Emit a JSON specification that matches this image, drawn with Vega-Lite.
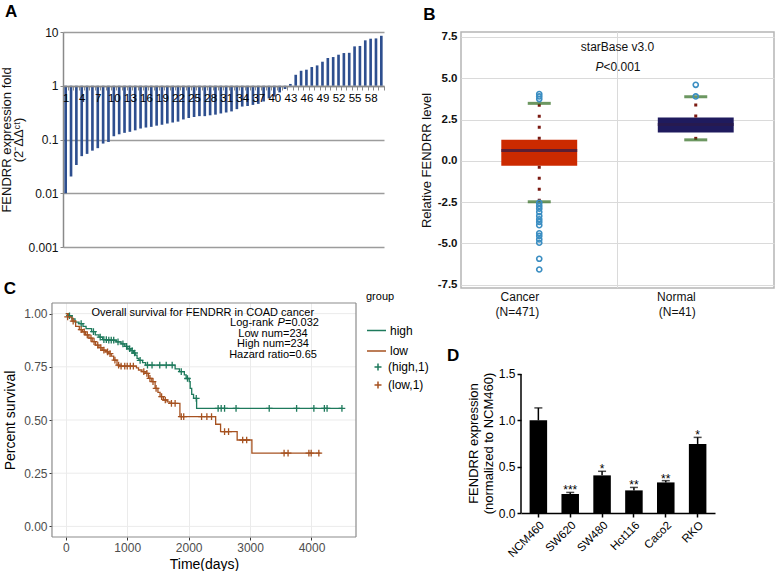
{
"$schema": "https://vega.github.io/schema/vega-lite/v6.json",
"padding": {"left": 0, "top": 3, "right": 0, "bottom": 0},
"config": {
  "font": "Liberation Sans",
  "view": {"stroke": null},
  "title": {"fontSize": 17, "fontWeight": "bold", "anchor": "start", "frame": "bounds", "baseline": "alphabetic", "color": "#000"}
},
"datasets": {
  "boxsum": [
    {"cat": "Cancer", "q1": -0.3, "med": 0.62, "q3": 1.27, "lo": -2.48, "hi": 3.48},
    {"cat": "Normal", "q1": 1.72, "med": 2.2, "q3": 2.63, "lo": 1.27, "hi": 3.88}
  ],
  "outl": [
    {"cat": "Cancer", "v": 4.04}, {"cat": "Cancer", "v": 3.9}, {"cat": "Cancer", "v": 3.74},
    {"cat": "Cancer", "v": -2.55}, {"cat": "Cancer", "v": -2.73}, {"cat": "Cancer", "v": -2.9},
    {"cat": "Cancer", "v": -3.1}, {"cat": "Cancer", "v": -3.34}, {"cat": "Cancer", "v": -3.54},
    {"cat": "Cancer", "v": -3.7}, {"cat": "Cancer", "v": -3.9}, {"cat": "Cancer", "v": -4.39},
    {"cat": "Cancer", "v": -4.55}, {"cat": "Cancer", "v": -4.76}, {"cat": "Cancer", "v": -4.96},
    {"cat": "Cancer", "v": -5.93}, {"cat": "Cancer", "v": -6.58},
    {"cat": "Normal", "v": 4.6}, {"cat": "Normal", "v": 3.9}
  ],
  "km": [
    {"g": "high", "t": 0, "s": 1.0}, {"g": "high", "t": 50, "s": 0.99}, {"g": "high", "t": 100, "s": 0.975},
    {"g": "high", "t": 150, "s": 0.96}, {"g": "high", "t": 215, "s": 0.953}, {"g": "high", "t": 280, "s": 0.94},
    {"g": "high", "t": 330, "s": 0.93}, {"g": "high", "t": 420, "s": 0.915}, {"g": "high", "t": 480, "s": 0.9},
    {"g": "high", "t": 540, "s": 0.89}, {"g": "high", "t": 600, "s": 0.878}, {"g": "high", "t": 700, "s": 0.875},
    {"g": "high", "t": 820, "s": 0.867}, {"g": "high", "t": 900, "s": 0.858}, {"g": "high", "t": 960, "s": 0.846},
    {"g": "high", "t": 1010, "s": 0.835}, {"g": "high", "t": 1060, "s": 0.826}, {"g": "high", "t": 1100, "s": 0.815},
    {"g": "high", "t": 1130, "s": 0.805}, {"g": "high", "t": 1160, "s": 0.79}, {"g": "high", "t": 1190, "s": 0.78},
    {"g": "high", "t": 1250, "s": 0.77}, {"g": "high", "t": 1300, "s": 0.758}, {"g": "high", "t": 1780, "s": 0.74},
    {"g": "high", "t": 1850, "s": 0.727}, {"g": "high", "t": 1930, "s": 0.712}, {"g": "high", "t": 1960, "s": 0.695},
    {"g": "high", "t": 2010, "s": 0.68}, {"g": "high", "t": 2025, "s": 0.649}, {"g": "high", "t": 2050, "s": 0.62},
    {"g": "high", "t": 2080, "s": 0.602}, {"g": "high", "t": 2130, "s": 0.555}, {"g": "high", "t": 4500, "s": 0.555},
    {"g": "low", "t": 0, "s": 1.0}, {"g": "low", "t": 40, "s": 0.985}, {"g": "low", "t": 100, "s": 0.965},
    {"g": "low", "t": 160, "s": 0.94}, {"g": "low", "t": 220, "s": 0.925}, {"g": "low", "t": 270, "s": 0.914},
    {"g": "low", "t": 320, "s": 0.9}, {"g": "low", "t": 376, "s": 0.885}, {"g": "low", "t": 430, "s": 0.868},
    {"g": "low", "t": 485, "s": 0.852}, {"g": "low", "t": 540, "s": 0.84}, {"g": "low", "t": 592, "s": 0.828},
    {"g": "low", "t": 650, "s": 0.82}, {"g": "low", "t": 700, "s": 0.812}, {"g": "low", "t": 740, "s": 0.8},
    {"g": "low", "t": 780, "s": 0.781}, {"g": "low", "t": 834, "s": 0.758}, {"g": "low", "t": 870, "s": 0.753},
    {"g": "low", "t": 1150, "s": 0.745}, {"g": "low", "t": 1184, "s": 0.735}, {"g": "low", "t": 1240, "s": 0.727},
    {"g": "low", "t": 1292, "s": 0.719}, {"g": "low", "t": 1346, "s": 0.696}, {"g": "low", "t": 1400, "s": 0.68},
    {"g": "low", "t": 1454, "s": 0.649}, {"g": "low", "t": 1500, "s": 0.63}, {"g": "low", "t": 1535, "s": 0.61},
    {"g": "low", "t": 1588, "s": 0.594}, {"g": "low", "t": 1650, "s": 0.585}, {"g": "low", "t": 1696, "s": 0.578},
    {"g": "low", "t": 1858, "s": 0.516}, {"g": "low", "t": 2440, "s": 0.48}, {"g": "low", "t": 2520, "s": 0.445},
    {"g": "low", "t": 2790, "s": 0.406}, {"g": "low", "t": 3030, "s": 0.344}, {"g": "low", "t": 4145, "s": 0.344}
  ],
  "cens": [
    {"g": "(high,1)", "t": 60, "s": 0.99}, {"g": "(high,1)", "t": 250, "s": 0.953}, {"g": "(high,1)", "t": 450, "s": 0.915},
    {"g": "(high,1)", "t": 560, "s": 0.89}, {"g": "(high,1)", "t": 620, "s": 0.878}, {"g": "(high,1)", "t": 660, "s": 0.878},
    {"g": "(high,1)", "t": 700, "s": 0.875}, {"g": "(high,1)", "t": 740, "s": 0.875}, {"g": "(high,1)", "t": 780, "s": 0.875},
    {"g": "(high,1)", "t": 850, "s": 0.867}, {"g": "(high,1)", "t": 930, "s": 0.858}, {"g": "(high,1)", "t": 990, "s": 0.846},
    {"g": "(high,1)", "t": 1040, "s": 0.835}, {"g": "(high,1)", "t": 1080, "s": 0.826}, {"g": "(high,1)", "t": 1120, "s": 0.815},
    {"g": "(high,1)", "t": 1210, "s": 0.78}, {"g": "(high,1)", "t": 1330, "s": 0.758}, {"g": "(high,1)", "t": 1404, "s": 0.758},
    {"g": "(high,1)", "t": 1530, "s": 0.758}, {"g": "(high,1)", "t": 1635, "s": 0.758}, {"g": "(high,1)", "t": 1732, "s": 0.758},
    {"g": "(high,1)", "t": 1880, "s": 0.727}, {"g": "(high,1)", "t": 1981, "s": 0.695}, {"g": "(high,1)", "t": 2124, "s": 0.602},
    {"g": "(high,1)", "t": 2480, "s": 0.555}, {"g": "(high,1)", "t": 2530, "s": 0.555}, {"g": "(high,1)", "t": 2585, "s": 0.555},
    {"g": "(high,1)", "t": 2772, "s": 0.555}, {"g": "(high,1)", "t": 3312, "s": 0.555}, {"g": "(high,1)", "t": 3758, "s": 0.555},
    {"g": "(high,1)", "t": 4039, "s": 0.555}, {"g": "(high,1)", "t": 4210, "s": 0.555}, {"g": "(high,1)", "t": 4254, "s": 0.555},
    {"g": "(high,1)", "t": 4496, "s": 0.555},
    {"g": "(low,1)", "t": 30, "s": 0.985}, {"g": "(low,1)", "t": 120, "s": 0.965}, {"g": "(low,1)", "t": 250, "s": 0.925},
    {"g": "(low,1)", "t": 300, "s": 0.914}, {"g": "(low,1)", "t": 350, "s": 0.9}, {"g": "(low,1)", "t": 410, "s": 0.885},
    {"g": "(low,1)", "t": 460, "s": 0.868}, {"g": "(low,1)", "t": 520, "s": 0.852}, {"g": "(low,1)", "t": 570, "s": 0.84},
    {"g": "(low,1)", "t": 620, "s": 0.828}, {"g": "(low,1)", "t": 680, "s": 0.82}, {"g": "(low,1)", "t": 720, "s": 0.812},
    {"g": "(low,1)", "t": 800, "s": 0.781}, {"g": "(low,1)", "t": 860, "s": 0.758}, {"g": "(low,1)", "t": 900, "s": 0.753},
    {"g": "(low,1)", "t": 960, "s": 0.753}, {"g": "(low,1)", "t": 1000, "s": 0.753}, {"g": "(low,1)", "t": 1050, "s": 0.753},
    {"g": "(low,1)", "t": 1100, "s": 0.753}, {"g": "(low,1)", "t": 1270, "s": 0.727}, {"g": "(low,1)", "t": 1320, "s": 0.719},
    {"g": "(low,1)", "t": 1370, "s": 0.696}, {"g": "(low,1)", "t": 1420, "s": 0.68}, {"g": "(low,1)", "t": 1470, "s": 0.649},
    {"g": "(low,1)", "t": 1560, "s": 0.61}, {"g": "(low,1)", "t": 1620, "s": 0.594}, {"g": "(low,1)", "t": 1720, "s": 0.578},
    {"g": "(low,1)", "t": 1780, "s": 0.578}, {"g": "(low,1)", "t": 1880, "s": 0.516}, {"g": "(low,1)", "t": 1920, "s": 0.516},
    {"g": "(low,1)", "t": 2211, "s": 0.516}, {"g": "(low,1)", "t": 2297, "s": 0.516}, {"g": "(low,1)", "t": 2373, "s": 0.516},
    {"g": "(low,1)", "t": 2585, "s": 0.445}, {"g": "(low,1)", "t": 2650, "s": 0.445}, {"g": "(low,1)", "t": 2880, "s": 0.406},
    {"g": "(low,1)", "t": 2945, "s": 0.406}, {"g": "(low,1)", "t": 3554, "s": 0.344}, {"g": "(low,1)", "t": 3619, "s": 0.344},
    {"g": "(low,1)", "t": 3958, "s": 0.344}, {"g": "(low,1)", "t": 3995, "s": 0.344}, {"g": "(low,1)", "t": 4120, "s": 0.344}
  ],
  "cgrid": [
    {"s": 0, "t0": -225, "t1": 4725}, {"s": 0.25, "t0": -225, "t1": 4725}, {"s": 0.5, "t0": -225, "t1": 4725},
    {"s": 0.75, "t0": -225, "t1": 4725}, {"s": 1, "t0": -225, "t1": 4725}
  ],
  "cframe": [
    {"t0": -225, "t1": 4725, "s0": -0.05, "s1": -0.05}, {"t0": -225, "t1": 4725, "s0": 1.05, "s1": 1.05},
    {"t0": -225, "t1": -225, "s0": -0.05, "s1": 1.05}, {"t0": 4725, "t1": 4725, "s0": -0.05, "s1": 1.05}
  ],
  "dset": [
    {"cell": "NCM460", "m": 1.0, "hi": 1.134, "star": ""},
    {"cell": "SW620", "m": 0.205, "hi": 0.222, "star": "***"},
    {"cell": "SW480", "m": 0.406, "hi": 0.45, "star": "*"},
    {"cell": "Hct116", "m": 0.244, "hi": 0.276, "star": "**"},
    {"cell": "Caco2", "m": 0.33, "hi": 0.349, "star": "**"},
    {"cell": "RKO", "m": 0.745, "hi": 0.816, "star": "*"}
  ]
},
"columns": 1,
"align": "none",
"spacing": -38,
"resolve": {"scale": {"color": "independent", "stroke": "independent"}, "legend": {"color": "independent", "stroke": "independent"}},
"concat": [
 {"columns": 2, "align": "none", "spacing": 34, "concat": [
  {
   "width": 321, "height": 215,
   "title": {"text": "A", "offset": 5, "dx": 4},
   "data": {"values": [
     {"n": 1, "v": 0.01}, {"n": 2, "v": 0.0205}, {"n": 3, "v": 0.0335}, {"n": 4, "v": 0.049}, {"n": 5, "v": 0.054},
     {"n": 6, "v": 0.062}, {"n": 7, "v": 0.069}, {"n": 8, "v": 0.084}, {"n": 9, "v": 0.09}, {"n": 10, "v": 0.115},
     {"n": 11, "v": 0.125}, {"n": 12, "v": 0.133}, {"n": 13, "v": 0.139}, {"n": 14, "v": 0.148}, {"n": 15, "v": 0.16},
     {"n": 16, "v": 0.167}, {"n": 17, "v": 0.172}, {"n": 18, "v": 0.181}, {"n": 19, "v": 0.188}, {"n": 20, "v": 0.198},
     {"n": 21, "v": 0.207}, {"n": 22, "v": 0.215}, {"n": 23, "v": 0.236}, {"n": 24, "v": 0.251}, {"n": 25, "v": 0.262},
     {"n": 26, "v": 0.272}, {"n": 27, "v": 0.272}, {"n": 28, "v": 0.282}, {"n": 29, "v": 0.29}, {"n": 30, "v": 0.305},
     {"n": 31, "v": 0.318}, {"n": 32, "v": 0.333}, {"n": 33, "v": 0.367}, {"n": 34, "v": 0.41}, {"n": 35, "v": 0.42},
     {"n": 36, "v": 0.44}, {"n": 37, "v": 0.46}, {"n": 38, "v": 0.51}, {"n": 39, "v": 0.58}, {"n": 40, "v": 0.63},
     {"n": 41, "v": 0.75}, {"n": 42, "v": 0.87}, {"n": 43, "v": 1.08}, {"n": 44, "v": 1.6}, {"n": 45, "v": 1.9},
     {"n": 46, "v": 1.99}, {"n": 47, "v": 2.23}, {"n": 48, "v": 2.39}, {"n": 49, "v": 2.8}, {"n": 50, "v": 3.28},
     {"n": 51, "v": 3.42}, {"n": 52, "v": 3.78}, {"n": 53, "v": 4.06}, {"n": 54, "v": 4.1}, {"n": 55, "v": 5.4},
     {"n": 56, "v": 5.5}, {"n": 57, "v": 7.0}, {"n": 58, "v": 7.5}, {"n": 59, "v": 7.6}, {"n": 60, "v": 8.5}
   ]},
   "mark": {"type": "bar", "color": "#2E4F8F", "width": {"band": 0.55}},
   "encoding": {
     "x": {"field": "n", "type": "ordinal", "axis": {"title": null, "offset": -161, "zindex": 1, "domainColor": "#8a8a8a", "domainWidth": 1.5, "tickColor": "#8a8a8a", "tickSize": 4, "tickBand": "extent", "labelAngle": 0, "labelOverlap": false, "labelExpr": "(datum.value - 1) % 3 == 0 ? datum.label : ''", "labelFontSize": 11.5, "labelColor": "#000", "labelPadding": 2}},
     "y": {"field": "v", "type": "quantitative", "scale": {"type": "log", "domain": [0.001, 10], "nice": false},
       "axis": {"values": [0.001, 0.01, 0.1, 1, 10], "format": "~g", "title": ["FENDRR expression fold", "(2⁻ΔΔᶜᵗ)"], "titleFontSize": 13, "titleFontWeight": "normal", "titleColor": "#111", "titlePadding": 2, "titleLineHeight": 12, "labelFontSize": 12, "labelColor": "#111", "domainColor": "#8a8a8a", "domainWidth": 1.5, "tickColor": "#8a8a8a", "tickSize": 3, "grid": true, "gridColor": "#9c9c9c", "gridWidth": 1.3}},
     "y2": {"datum": 1}
   }
  },
  {
   "width": 313, "height": 256,
   "view": {"stroke": "#b5b5b5", "strokeWidth": 1.5},
   "title": {"text": "B", "offset": 7, "dx": 3},
   "layer": [
    {"data": {"values": [{"cat": "Cancer"}]}, "mark": {"type": "rule", "color": "#dadada", "strokeWidth": 1},
     "encoding": {"x": {"field": "cat", "type": "nominal", "bandPosition": 1}}},
    {"data": {"name": "boxsum"}, "transform": [{"filter": "datum.cat == 'Cancer'"}], "mark": {"type": "bar", "width": {"band": 0.485}, "color": "#CC2A00"},
     "encoding": {
       "x": {"field": "cat", "type": "nominal", "scale": {"domain": ["Cancer", "Normal"], "paddingInner": 0, "paddingOuter": 0},
         "axis": {"title": null, "labelAngle": 0, "labelExpr": "datum.value == 'Cancer' ? ['Cancer', '(N=471)'] : ['Normal', '(N=41)']", "labelFontSize": 12, "labelLineHeight": 15, "labelPadding": 8, "labelColor": "#111", "ticks": false, "domain": false, "grid": false}},
       "y": {"field": "q1", "type": "quantitative", "scale": {"domain": [-7.7, 7.8], "nice": false, "zero": false},
         "axis": {"values": [-7.5, -5, -2.5, 0, 2.5, 5, 7.5], "format": ".1f", "labelExpr": "replace(datum.label, '−', '-')", "title": "Relative FENDRR level", "titleFontSize": 13, "titleFontWeight": "normal", "titleColor": "#111", "labelFontSize": 11.5, "labelFontWeight": "bold", "labelColor": "#111", "grid": true, "gridColor": "#dadada", "ticks": false, "domain": false, "labelPadding": 4, "titlePadding": 4}},
       "y2": {"field": "q3"}
     }},
    {"data": {"name": "boxsum"}, "transform": [{"filter": "datum.cat == 'Normal'"}], "mark": {"type": "bar", "width": {"band": 0.485}, "color": "#1F1B5E"},
     "encoding": {"x": {"field": "cat", "type": "nominal"}, "y": {"field": "q1", "type": "quantitative"}, "y2": {"field": "q3"}}},
    {"data": {"name": "boxsum"}, "mark": {"type": "tick", "size": 76, "thickness": 3, "color": "#2B1A48"},
     "encoding": {"x": {"field": "cat", "type": "nominal"}, "y": {"field": "med", "type": "quantitative"}}},
    {"data": {"name": "boxsum"}, "mark": {"type": "rule", "strokeDash": [3, 8], "strokeWidth": 3, "color": "#7B1A12"},
     "encoding": {"x": {"field": "cat", "type": "nominal"}, "y": {"field": "q3", "type": "quantitative"}, "y2": {"field": "hi"}}},
    {"data": {"name": "boxsum"}, "mark": {"type": "rule", "strokeDash": [3, 8], "strokeWidth": 3, "color": "#7B1A12"},
     "encoding": {"x": {"field": "cat", "type": "nominal"}, "y": {"field": "lo", "type": "quantitative"}, "y2": {"field": "q1"}}},
    {"data": {"name": "boxsum"}, "mark": {"type": "tick", "size": 23, "thickness": 3, "color": "#2E6B1E"},
     "encoding": {"x": {"field": "cat", "type": "nominal"}, "y": {"field": "hi", "type": "quantitative"}}},
    {"data": {"name": "boxsum"}, "mark": {"type": "tick", "size": 23, "thickness": 3, "color": "#2E6B1E"},
     "encoding": {"x": {"field": "cat", "type": "nominal"}, "y": {"field": "lo", "type": "quantitative"}}},
    {"data": {"name": "outl"}, "mark": {"type": "point", "shape": "circle", "filled": false, "color": "#3B8EC2", "strokeWidth": 1.6, "size": 26, "opacity": 1},
     "encoding": {"x": {"field": "cat", "type": "nominal"}, "y": {"field": "v", "type": "quantitative"}}},
    {"data": {"values": [{"cat": "Cancer", "y": 6.9, "label": "starBase v3.0"}]}, "mark": {"type": "text", "fontSize": 12, "align": "center", "baseline": "middle", "color": "#111"},
     "encoding": {"x": {"field": "cat", "type": "nominal", "bandPosition": 1}, "y": {"field": "y", "type": "quantitative"}, "text": {"field": "label"}}},
    {"data": {"values": [{"cat": "Cancer", "y": 5.68, "label": "P"}]}, "mark": {"type": "text", "fontSize": 12, "fontStyle": "italic", "align": "right", "baseline": "middle", "dx": -14, "color": "#111"},
     "encoding": {"x": {"field": "cat", "type": "nominal", "bandPosition": 1}, "y": {"field": "y", "type": "quantitative"}, "text": {"field": "label"}}},
    {"data": {"values": [{"cat": "Cancer", "y": 5.68, "label": "<0.001"}]}, "mark": {"type": "text", "fontSize": 12, "align": "left", "baseline": "middle", "dx": -14, "color": "#111"},
     "encoding": {"x": {"field": "cat", "type": "nominal", "bandPosition": 1}, "y": {"field": "y", "type": "quantitative"}, "text": {"field": "label"}}}
   ]
  }
 ]},
 {"columns": 2, "align": "none", "spacing": 18,
  "resolve": {"scale": {"color": "independent", "stroke": "independent"}, "legend": {"color": "independent", "stroke": "independent"}},
  "concat": [
  {
   "width": 293, "height": 234,
   "title": {"text": "C", "offset": -7, "dx": 0},
   "layer": [
    {"data": {"name": "cgrid"}, "mark": {"type": "rule", "color": "#EBEBEB", "strokeWidth": 1},
     "encoding": {"x": {"field": "t0", "type": "quantitative"}, "x2": {"field": "t1"}, "y": {"field": "s", "type": "quantitative"}}},
    {"data": {"name": "km"}, "mark": {"type": "line", "interpolate": "step-after", "strokeWidth": 1.3},
     "encoding": {
       "x": {"field": "t", "type": "quantitative", "scale": {"domain": [-45.6, 4725], "nice": false, "zero": false},
         "axis": {"values": [0, 1000, 2000, 3000, 4000], "format": "d", "title": "Time(days)", "titleX": 141, "titleFontSize": 14, "titleFontWeight": "normal", "titleColor": "#000", "titlePadding": 4, "labelFontSize": 12, "labelColor": "#4D4D4D", "tickColor": "#333", "tickSize": 3, "domain": false, "grid": true, "gridColor": "#EBEBEB"}},
       "y": {"field": "s", "type": "quantitative", "scale": {"domain": [-0.05, 1.05], "nice": false, "zero": false},
         "axis": {"values": [0, 0.25, 0.5, 0.75, 1], "format": ".2f", "offset": 11, "title": "Percent survival", "titleFontSize": 14, "titleFontWeight": "normal", "titleColor": "#000", "titlePadding": 6, "labelFontSize": 12, "labelColor": "#4D4D4D", "tickColor": "#333", "tickSize": 3, "domain": false, "grid": false}},
       "color": {"field": "g", "type": "nominal",
         "scale": {"domain": ["high", "low"], "range": ["#1E7A5C", "#A65220"]},
         "legend": {"title": "group", "orient": "none", "legendX": 303, "legendY": -12, "titleFontSize": 11, "titleFontWeight": "normal", "titleColor": "#000", "titlePadding": 18, "labelFontSize": 12, "labelColor": "#000", "symbolType": "stroke", "symbolStrokeWidth": 1.5, "symbolSize": 361, "rowPadding": 3.5, "labelOffset": 3}}
     }},
    {"data": {"name": "cens"}, "mark": {"type": "point", "shape": "M-1,0L1,0M0,-1L0,1", "filled": false, "size": 45, "strokeWidth": 1.3, "opacity": 1},
     "encoding": {"x": {"field": "t", "type": "quantitative"}, "y": {"field": "s", "type": "quantitative"},
       "stroke": {"field": "g", "type": "nominal", "scale": {"domain": ["(high,1)", "(low,1)"], "range": ["#1E7A5C", "#A65220"]},
         "legend": {"title": null, "orient": "none", "legendX": 309, "legendY": 58, "labelFontSize": 12, "labelColor": "#000", "symbolType": "M-1,0L1,0M0,-1L0,1", "symbolStrokeWidth": 1.5, "symbolSize": 49, "rowPadding": 4, "labelOffset": 4}}}},
    {"data": {"values": [{"t": 4042, "s": 1.005, "label": "Overall survival for FENDRR in COAD cancer"}]}, "mark": {"type": "text", "fontSize": 11, "align": "right", "baseline": "middle", "color": "#000"},
     "encoding": {"x": {"field": "t", "type": "quantitative"}, "y": {"field": "s", "type": "quantitative"}, "text": {"field": "label"}}},
    {"data": {"values": [{"t": 3447, "s": 0.955, "label": "Log-rank"}]}, "mark": {"type": "text", "fontSize": 11, "align": "right", "baseline": "middle", "dx": -4, "color": "#000"},
     "encoding": {"x": {"field": "t", "type": "quantitative"}, "y": {"field": "s", "type": "quantitative"}, "text": {"field": "label"}}},
    {"data": {"values": [{"t": 3447, "s": 0.955, "label": "P"}]}, "mark": {"type": "text", "fontSize": 11, "fontStyle": "italic", "align": "left", "baseline": "middle", "color": "#000"},
     "encoding": {"x": {"field": "t", "type": "quantitative"}, "y": {"field": "s", "type": "quantitative"}, "text": {"field": "label"}}},
    {"data": {"values": [{"t": 3447, "s": 0.955, "label": "=0.032"}]}, "mark": {"type": "text", "fontSize": 11, "align": "left", "baseline": "middle", "dx": 7.5, "color": "#000"},
     "encoding": {"x": {"field": "t", "type": "quantitative"}, "y": {"field": "s", "type": "quantitative"}, "text": {"field": "label"}}},
    {"data": {"values": [{"t": 3374, "s": 0.903, "label": "Low num=234"}, {"t": 3374, "s": 0.856, "label": "High num=234"}, {"t": 3374, "s": 0.806, "label": "Hazard ratio=0.65"}]}, "mark": {"type": "text", "fontSize": 11, "align": "center", "baseline": "middle", "color": "#000"},
     "encoding": {"x": {"field": "t", "type": "quantitative"}, "y": {"field": "s", "type": "quantitative"}, "text": {"field": "label"}}},
    {"data": {"name": "cframe"}, "mark": {"type": "rule", "color": "#8c8c8c", "strokeWidth": 1.2},
     "encoding": {"x": {"field": "t0", "type": "quantitative"}, "x2": {"field": "t1"}, "y": {"field": "s0", "type": "quantitative"}, "y2": {"field": "s1"}}}
   ]
  },
  {
   "width": 194, "height": 210,
   "title": {"text": "D", "offset": -62, "dx": -74, "frame": "group"},
   "data": {"name": "dset"},
   "layer": [
    {"mark": {"type": "bar", "color": "#000"},
     "encoding": {
       "x": {"field": "cell", "type": "nominal", "sort": null, "scale": {"domain": ["NCM460", "SW620", "SW480", "Hct116", "Caco2", "RKO"], "paddingInner": 0.45, "paddingOuter": 0.27},
         "axis": {"title": null, "labelAngle": -45, "labelFontSize": 11.5, "labelColor": "#000", "domainColor": "#000", "domainWidth": 1.5, "tickColor": "#000", "tickWidth": 1.5, "tickSize": 4, "labelPadding": 2}},
       "y": {"field": "m", "type": "quantitative", "scale": {"domain": [0, 2.266], "nice": false},
         "axis": {"values": [0, 0.5, 1, 1.5], "format": ".1f", "title": ["FENDRR expression", "(normalized to NCM460)"], "titleY": 140, "titleFontSize": 13, "titleFontWeight": "normal", "titleColor": "#000", "titleLineHeight": 15, "titlePadding": 3, "labelFontSize": 12, "labelColor": "#000", "domain": false, "tickColor": "#000", "tickWidth": 1.5, "tickSize": 4, "grid": false}}
     }},
    {"data": {"values": [{"cell": "NCM460", "a": 0, "b": 1.5}]}, "mark": {"type": "rule", "color": "#000", "strokeWidth": 1.5},
     "encoding": {"x": {"field": "cell", "type": "nominal", "sort": null, "bandPosition": -0.491}, "y": {"field": "a", "type": "quantitative"}, "y2": {"field": "b"}}},
    {"mark": {"type": "rule", "color": "#000", "strokeWidth": 1.5},
     "encoding": {"x": {"field": "cell", "type": "nominal", "sort": null}, "y": {"field": "m", "type": "quantitative"}, "y2": {"field": "hi"}}},
    {"mark": {"type": "tick", "color": "#000", "size": 8, "thickness": 1.5},
     "encoding": {"x": {"field": "cell", "type": "nominal", "sort": null}, "y": {"field": "hi", "type": "quantitative"}}},
    {"mark": {"type": "text", "fontSize": 12, "baseline": "alphabetic", "dy": 2, "color": "#000"},
     "encoding": {"x": {"field": "cell", "type": "nominal", "sort": null}, "y": {"field": "hi", "type": "quantitative"}, "text": {"field": "star"}}}
   ]
  }
 ]}
]
}
